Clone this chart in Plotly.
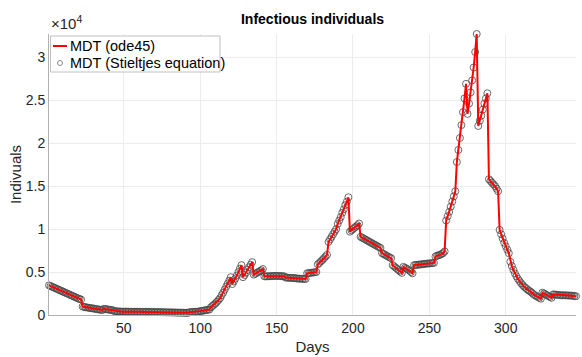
import plotly.graph_objects as go

# Infectious individuals per day (days 1..346)
days = list(range(1, 347))

infectious = [
    # days 1-22
    3450, 3370, 3290, 3210, 3130, 3050, 2970, 2890, 2810, 2730, 2650,
    2570, 2490, 2410, 2330, 2250, 2170, 2090, 2010, 1930, 1860, 1800,
    # 23-29
    980, 940, 900, 870, 840, 810, 780,
    # 30-36
    760, 720, 690, 660, 630, 600, 580,
    # 37-43
    720, 690, 660, 630, 600, 570, 540,
    # 44-50
    440, 430, 420, 410, 400, 390, 380,
    # 51-57
    400, 390, 385, 380, 375, 370, 365,
    # 58-64
    380, 375, 370, 365, 360, 355, 350,
    # 65-71
    370, 365, 360, 355, 350, 345, 340,
    # 72-78
    340, 335, 330, 325, 320, 315, 310,
    # 79-85
    310, 305, 300, 295, 290, 285, 280,
    # 86-92
    280, 275, 270, 265, 260, 255, 250,
    # 93-99
    330, 340, 350, 360, 370, 380, 390,
    # 100-106
    450, 480, 510, 540, 570, 600, 640,
    # 107-113
    900, 1050, 1200, 1350, 1550, 1750, 1950,
    # 114-120
    2300, 2600, 2950, 3300, 3650, 4000, 4400,
    # 121-127
    3600, 3900, 4250, 4600, 5000, 5400, 5800,
    # 128-134
    4400, 4650, 4950, 5250, 5550, 5850, 6150,
    # 135-141
    4700, 4800, 4900, 5000, 5100, 5200, 5350,
    # 142-148
    4500, 4500, 4500, 4510, 4520, 4530, 4540,
    # 149-155
    4550, 4550, 4540, 4530, 4520, 4510, 4500,
    # 156-162
    4350, 4340, 4330, 4320, 4310, 4300, 4290,
    # 163-169
    4250, 4240, 4230, 4220, 4210, 4200, 4190,
    # 170-176
    4850, 4870, 4900, 4920, 4950, 4970, 5000,
    # 177-183
    5900, 6050, 6250, 6400, 6600, 6800, 7000,
    # 184-190
    8500, 8800, 9100, 9400, 9700, 10000, 10600,
    # 191-197
    11000, 11400, 11900, 12300, 12800, 13200, 13700,
    # 198-204
    9700, 9850, 10000, 10150, 10300, 10450, 10650,
    # 205-211
    9100, 9000, 8900, 8800, 8700, 8600, 8500,
    # 212-218
    8400, 8300, 8200, 8100, 8000, 7900, 7800,
    # 219-225
    7200, 7100, 7000, 6900, 6800, 6700, 6600,
    # 226-232
    5800, 5650, 5500, 5350, 5200, 5050, 4900,
    # 233-239
    5600, 5500, 5400, 5300, 5150, 5000, 4850,
    # 240-246
    5800, 5820, 5840, 5860, 5880, 5900, 5920,
    # 247-253
    5950, 5970, 5990, 6000, 6020, 6040, 6060,
    # 254-260
    6800, 6900, 6950, 7000, 7100, 7200, 7400,
    # 261-267
    11000, 11500, 12000, 12600, 13200, 13800, 14400,
    # 268-274
    17800, 19200, 20600, 22100, 23600, 25200, 26900,
    # 275-281
    23400, 24600, 25900, 27300, 28800, 30600, 32700,
    # 282-288
    22000, 22600, 23200, 23900, 24600, 25200, 25800,
    # 289-295
    15800, 15600, 15400, 15200, 15000, 14700, 14400,
    # 296-302
    9900, 9400, 8900, 8400, 8000, 7600, 7200,
    # 303-309
    6200, 5700, 5250, 4850, 4500, 4200, 3950,
    # 310-316
    3700, 3500, 3300, 3150, 3000, 2850, 2750,
    # 317-323
    2600, 2450, 2300, 2200, 2100, 2000, 1900,
    # 324-330
    2600, 2500, 2400, 2300, 2200, 2100, 2000,
    # 331-337
    2400, 2380, 2360, 2340, 2320, 2300, 2280,
    # 338-344
    2300, 2290, 2280, 2270, 2260, 2250, 2240,
    # 345-346
    2200, 2180,
]

y_ticks = [0, 5000, 10000, 15000, 20000, 25000, 30000]
y_tick_labels = ["0", "0.5", "1", "1.5", "2", "2.5", "3"]
x_ticks = [50, 100, 150, 200, 250, 300]
legend_labels = ["MDT (ode45)", "MDT (Stieltjes equation)"]

FONT = "Liberation Sans, Arial, Helvetica, sans-serif"
TXT = "#262626"
W, H = 582, 357
L, R, T, B = 49, 6, 34, 42

fig = go.Figure()

# Stieltjes solution: open gray circles
fig.add_trace(go.Scatter(
    x=days, y=infectious,
    mode="markers",
    name=legend_labels[1],
    cliponaxis=False,
    marker=dict(symbol="circle-open", size=7, color="rgba(70,70,70,0.8)",
                line=dict(width=1)),
))

# ode45 solution: red line on top
fig.add_trace(go.Scatter(
    x=days, y=infectious,
    mode="lines",
    name=legend_labels[0],
    cliponaxis=False,
    line=dict(color="#ff0000", width=2),
))

fig.update_layout(
    width=W, height=H,
    margin=dict(l=L, r=R, t=T, b=B),
    paper_bgcolor="white",
    plot_bgcolor="white",
    font=dict(family=FONT, size=14, color=TXT),
    title=dict(text="<b>Infectious individuals</b>", x=0.537, xanchor="center",
               y=1 - 19 / H, yanchor="middle", font=dict(size=14, color="black")),
    showlegend=False,
)

fig.update_xaxes(
    range=[1, 346],
    tickvals=x_ticks,
    showgrid=True, gridcolor="#ececec", gridwidth=1,
    showline=True, linecolor="#b0b0b0", linewidth=1,
    ticks="", zeroline=False,
    tickfont=dict(size=14, color=TXT),
    title=dict(text="Days", font=dict(size=15, color=TXT), standoff=6),
)
fig.update_yaxes(
    range=[0, 32700],
    tickvals=y_ticks, ticktext=y_tick_labels,
    showgrid=True, gridcolor="#ececec", gridwidth=1,
    showline=True, linecolor="#b0b0b0", linewidth=1,
    ticks="", zeroline=False,
    tickfont=dict(size=14, color=TXT),
    title=dict(text="Indivuals", font=dict(size=15, color=TXT), standoff=0),
)

# exponent label above the y axis
fig.add_annotation(
    text="×10<sup>4</sup>", xref="paper", yref="paper",
    x=0.0, y=1.0, xanchor="left", yanchor="bottom", yshift=0,
    showarrow=False, font=dict(size=15, color=TXT),
)

# compact MATLAB-style legend box in the top-left corner (paper coords)
pw, ph = W - L - R, H - T - B
def px(x):
    return (x - L) / pw
def py(y):
    return 1 - (y - T) / ph

fig.add_shape(type="rect", xref="paper", yref="paper",
              x0=px(50.5), x1=px(220), y0=py(36), y1=py(72),
              line=dict(color="#c0c0c0", width=1), fillcolor="white", layer="above")
fig.add_shape(type="line", xref="paper", yref="paper",
              x0=px(53), x1=px(67), y0=py(46), y1=py(46),
              line=dict(color="#ff0000", width=2), layer="above")
fig.add_shape(type="circle", xref="paper", yref="paper",
              x0=px(57.5), x1=px(62.5), y0=py(60.5), y1=py(65.5),
              line=dict(color="#8a8a8a", width=1), layer="above")
for label, yy in zip(legend_labels, [46, 63]):
    fig.add_annotation(text=label, xref="paper", yref="paper",
                       x=px(68), y=py(yy), xanchor="left", yanchor="middle",
                       showarrow=False, font=dict(size=14.5, color="black"))

fig.write_html("out.html", config={"displayModeBar": False},
               post_script="document.body.style.margin='0';")
